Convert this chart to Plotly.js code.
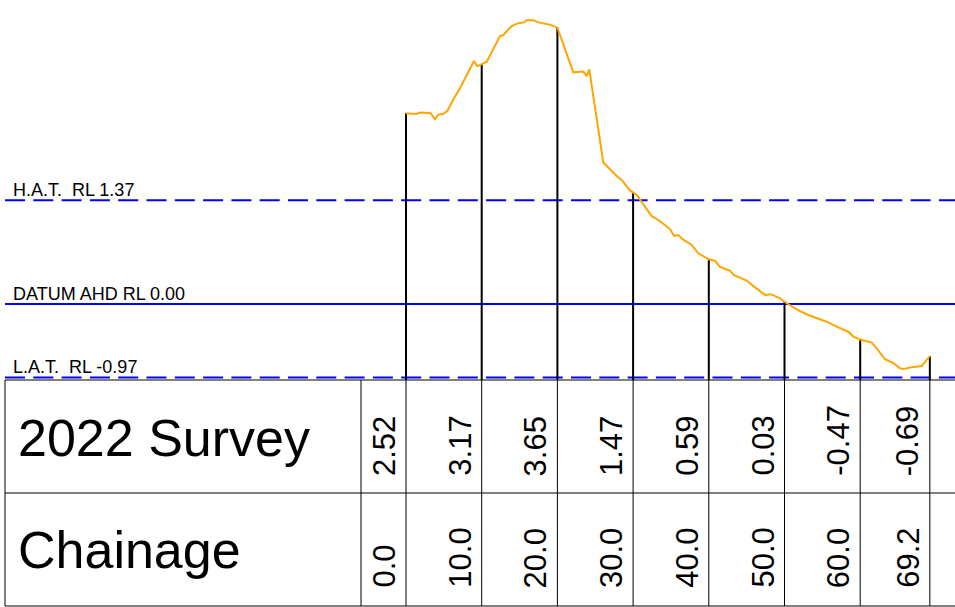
<!DOCTYPE html>
<html>
<head>
<meta charset="utf-8">
<script src="https://cdn.plot.ly/plotly-3.0.1.min.js"></script>
<style>
html,body{margin:0;padding:0;background:#fff;}
#chart{width:955px;height:607px;}
</style>
</head>
<body>
<div id="chart"></div>
<script>
// ---- Data ----
const surveyChainage = [0.0, 10.0, 20.0, 30.0, 40.0, 50.0, 60.0, 69.2];
const surveyLevel = [2.52, 3.17, 3.65, 1.47, 0.59, 0.03, -0.47, -0.69];

const profileChainage = [0, 0.53, 1.32, 1.94, 3.26, 3.83, 4.27, 4.85, 5.46, 6.25, 7.13, 8.98, 9.42, 10.0,
  10.66, 12.42, 12.85, 13.08, 13.96, 14.83, 15.59, 15.94, 16.82, 17.48, 18.23, 19.02, 20.0,
  22.1, 23.42, 23.87, 24.21, 26.06, 27.83, 28.49, 29.59, 30.0, 30.48, 32.46, 33.33, 34.87,
  35.4, 35.97, 36.63, 37.74, 38.61, 40.0, 40.82, 41.48, 42.8, 43.33, 45.0, 46.1, 47.42, 48.18,
  49.4, 50.0, 51.61, 53.14, 55.57, 56.9, 58.43, 59.1, 60.0, 61.52, 62.18, 63.28, 64.37, 65.26,
  65.7, 66.8, 68.12, 69.2];
const profileLevel = [2.52, 2.52, 2.51, 2.53, 2.52, 2.44, 2.50, 2.51, 2.55, 2.70, 2.85, 3.21, 3.14, 3.17,
  3.20, 3.54, 3.55, 3.58, 3.67, 3.71, 3.72, 3.75, 3.75, 3.72, 3.71, 3.69, 3.65,
  3.06, 3.07, 3.01, 3.10, 1.87, 1.69, 1.64, 1.50, 1.47, 1.44, 1.16, 1.11, 0.99,
  0.90, 0.91, 0.85, 0.78, 0.67, 0.59, 0.57, 0.49, 0.44, 0.38, 0.31, 0.22, 0.12, 0.13,
  0.075, 0.03, -0.07, -0.145, -0.234, -0.30, -0.366, -0.43, -0.47, -0.51, -0.585, -0.73, -0.78, -0.85,
  -0.86, -0.836, -0.82, -0.69];

const refLabels = ["H.A.T.\u00a0\u00a0RL 1.37", "DATUM AHD RL 0.00", "L.A.T.\u00a0\u00a0RL -0.97"];
const refLevels = [1.37, 0.00, -0.97];
const refDashed = [true, false, true];

const rowLabels = ["2022 Survey", "Chainage"];

// ---- Geometry (page is one plot area) ----
const W = 955, H = 607;
const X0PX = 406, XS = 7.57;      // px of chainage 0, px per metre
const DATUMPX = 304, YS = 75.7;   // px of RL 0, px per metre
const xr = [-X0PX / XS, (W - X0PX) / XS];
const yr = [(DATUMPX - H) / YS, DATUMPX / YS];
const pxToX = p => (p - X0PX) / XS;
const pxToY = p => (DATUMPX - p) / YS;
const pyPaper = p => 1 - p / H;
const pxPaper = p => p / W;

const TABLE_TOP = 380, TABLE_MID = 493, TABLE_BOT = 606, TABLE_LEFT = 5, LABEL_COL = 361;
const FONT = "Liberation Sans, Arial, Helvetica, sans-serif";

const traces = [];

// reference levels
refLevels.forEach((lv, i) => {
  traces.push({
    x: [pxToX(TABLE_LEFT), xr[1]], y: [lv, lv], mode: "lines", hoverinfo: "skip",
    line: {color: "#0000ff", width: 2, dash: refDashed[i] ? "20px,8.3px" : "solid"}
  });
});

// drop lines from profile down to the table
const dx = [], dy = [], tx = [], ty = [];
surveyChainage.forEach((c, i) => {
  dx.push(c, c, null); dy.push(pxToY(TABLE_TOP), surveyLevel[i], null);
  tx.push(c, c, null); ty.push(pxToY(TABLE_BOT), pxToY(TABLE_TOP), null);
});
traces.push({x: dx, y: dy, mode: "lines", line: {color: "#000", width: 2}, hoverinfo: "skip"});
traces.push({x: tx, y: ty, mode: "lines", line: {color: "#000", width: 1}, hoverinfo: "skip"});

// profile
traces.push({x: profileChainage, y: profileLevel, mode: "lines",
  line: {color: "#ffa500", width: 2}, hoverinfo: "skip"});

const shapes = [];
[TABLE_TOP, TABLE_MID, TABLE_BOT].forEach(p => shapes.push({
  type: "line", xref: "paper", yref: "paper", x0: pxPaper(TABLE_LEFT), x1: 1,
  y0: pyPaper(p), y1: pyPaper(p), line: {color: "#000", width: 1}
}));
[TABLE_LEFT, LABEL_COL].forEach(p => shapes.push({
  type: "line", xref: "paper", yref: "paper", x0: pxPaper(p), x1: pxPaper(p),
  y0: pyPaper(TABLE_TOP), y1: pyPaper(TABLE_BOT), line: {color: "#000", width: 1}
}));

const annotations = [];
refLabels.forEach((t, i) => annotations.push({
  text: t, xref: "paper", yref: "y", x: pxPaper(11), y: refLevels[i],
  xanchor: "left", yanchor: "bottom", yshift: -2, showarrow: false,
  font: {family: FONT, size: 18, color: "#000"}
}));
const rowCentersPx = [437.5, 550];
rowLabels.forEach((t, i) => annotations.push({
  text: t, xref: "paper", yref: "paper", x: pxPaper(16), y: pyPaper(rowCentersPx[i]),
  xanchor: "left", yanchor: "middle", showarrow: false,
  font: {family: FONT, size: 52, color: "#000"}
}));
surveyChainage.forEach((c, i) => {
  annotations.push({
    text: surveyLevel[i].toFixed(2), xref: "x", yref: "paper", x: c, xshift: -22,
    y: pyPaper(478), xanchor: "center", yanchor: "bottom", textangle: -90, showarrow: false,
    font: {family: FONT, size: 31, color: "#000"}
  });
  annotations.push({
    text: c.toFixed(1), xref: "x", yref: "paper", x: c, xshift: -22,
    y: pyPaper(590), xanchor: "center", yanchor: "bottom", textangle: -90, showarrow: false,
    font: {family: FONT, size: 31, color: "#000"}
  });
});

const axis = {visible: false, showgrid: false, zeroline: false, fixedrange: true};
const layout = {
  width: W, height: H, margin: {l: 0, r: 0, t: 0, b: 0, pad: 0},
  paper_bgcolor: "#fff", plot_bgcolor: "#fff", showlegend: false,
  xaxis: Object.assign({range: xr}, axis),
  yaxis: Object.assign({range: yr}, axis),
  shapes: shapes, annotations: annotations
};
Plotly.newPlot("chart", traces, layout, {staticPlot: true, displayModeBar: false});
</script>
</body>
</html>
